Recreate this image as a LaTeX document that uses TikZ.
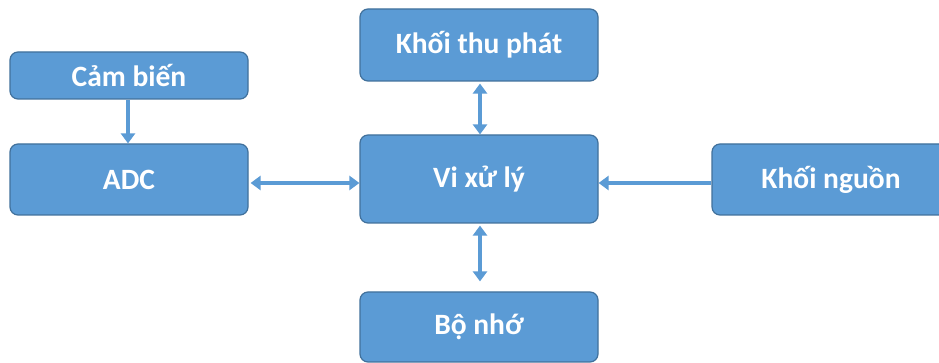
\documentclass[tikz,border=0pt]{standalone}
\usepackage{fontspec}
\setmainfont{Carlito}
\usetikzlibrary{arrows.meta}
\definecolor{blockfill}{HTML}{5B9BD5}
\definecolor{blockedge}{HTML}{41719C}
\definecolor{linkcol}{HTML}{5B9BD5}
\tikzset{
  block/.style={draw=blockedge, line width=1.2pt, fill=blockfill, rounded corners=8pt,
    minimum width=238pt, text=white, font=\fontsize{29.5}{32}\selectfont\bfseries,
    inner sep=0pt, anchor=center},
  link/.style={draw=linkcol, line width=4.5pt,
    -{Triangle[width=14pt,length=10pt]}},
  dlink/.style={draw=linkcol, line width=4.5pt,
    {Triangle[width=14pt,length=10pt]}-{Triangle[width=14pt,length=10pt]}}
}
\begin{document}
\begin{tikzpicture}[x=1pt,y=1pt]
\clip (0,0) rectangle (939,363);
\fill[white] (0,0) rectangle (939,363);
% blocks (y measured upward from the bottom edge)
\node[block, minimum height=47pt] (cam) at (129,287.5) {Cảm biến};
\node[block, minimum height=71pt] (adc) at (129,183.5) {ADC};
\node[block, minimum height=72pt] (thu) at (479,318) {Khối thu phát};
\node[block, minimum height=88pt] (vxl) at (479,184) {Vi xử lý};
\node[block, minimum height=71pt] (nguon) at (831,183.5) {Khối nguồn};
\node[block, minimum height=70pt] (nho) at (479,36) {Bộ nhớ};
% connectors
\draw[link] (cam.south -| 128,0) -- (adc.north -| 128,0);
\draw[dlink] (adc.east |- 0,180) ++(2,0) -- (vxl.west |- 0,180);
\draw[dlink] (thu.south -| 480,0) ++(0,-2) -- (vxl.north -| 480,0);
\draw[link] (nguon.west |- 0,180) -- (vxl.east |- 0,180);
\draw[dlink, shorten >=10pt] (vxl.south -| 480,0) ++(0,-2) -- (nho.north -| 480,0);
\end{tikzpicture}
\end{document}
